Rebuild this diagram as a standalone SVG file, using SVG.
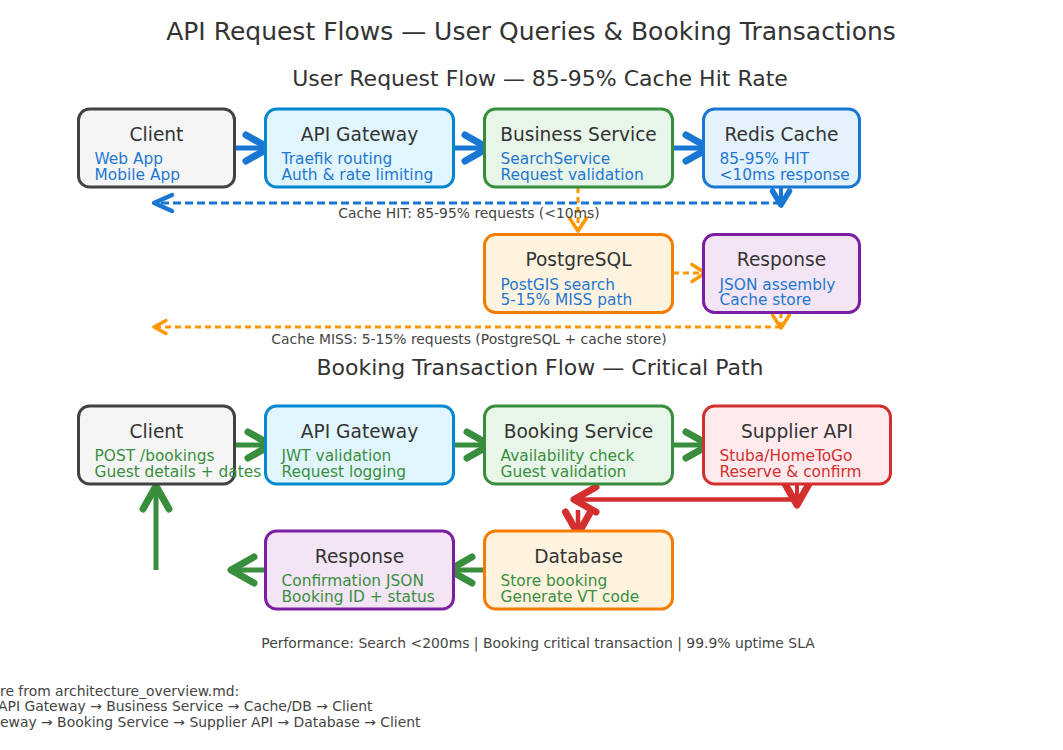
<svg xmlns="http://www.w3.org/2000/svg" width="1063" height="750" viewBox="0 0 1063 750">
<style>
text{font-family:"DejaVu Sans","Liberation Sans",sans-serif}
.h1{font-size:25px;fill:#333;text-anchor:middle}
.h2{font-size:22px;fill:#333;text-anchor:middle}
.nt{font-size:18.6px;fill:#333;text-anchor:middle}
.ns{font-size:15.4px}
.blue{fill:#1f77d0}
.green{fill:#3a8e3f}
.red{fill:#d32f2f}
.note{font-size:13.9px;fill:#444}
.box{stroke-width:3}
.c{fill:none;stroke-linecap:butt}
</style>
<defs>
<marker id="mBlue" markerUnits="userSpaceOnUse" orient="auto" refX="0" refY="0" markerWidth="10" markerHeight="10" overflow="visible"><path d="M-23,-13 L0,0 L-23,13" fill="none" stroke="#1976d2" stroke-width="7" stroke-linecap="round" stroke-linejoin="round"/></marker>
<marker id="mBlueS" markerUnits="userSpaceOnUse" orient="auto" refX="0" refY="0" markerWidth="10" markerHeight="10" overflow="visible"><path d="M-18,-8 L0,0 L-18,8" fill="none" stroke="#1976d2" stroke-width="4.5" stroke-linecap="round" stroke-linejoin="round"/></marker>
<marker id="mBlueD" markerUnits="userSpaceOnUse" orient="auto" refX="0" refY="0" markerWidth="10" markerHeight="10" overflow="visible"><path d="M-14,-8.5 L0,0 L-14,8.5" fill="none" stroke="#1976d2" stroke-width="5.5" stroke-linecap="round" stroke-linejoin="round"/></marker>
<marker id="mOr" markerUnits="userSpaceOnUse" orient="auto" refX="0" refY="0" markerWidth="10" markerHeight="10" overflow="visible"><path d="M-13,-8.5 L0,0 L-13,8.5" fill="none" stroke="#ff9800" stroke-width="3.5" stroke-linecap="round" stroke-linejoin="round"/></marker>
<marker id="mOrL" markerUnits="userSpaceOnUse" orient="auto" refX="0" refY="0" markerWidth="10" markerHeight="10" overflow="visible"><path d="M-12,-6.5 L0,0 L-12,6.5" fill="none" stroke="#ff9800" stroke-width="3.5" stroke-linecap="round" stroke-linejoin="round"/></marker>
<marker id="mGreen" markerUnits="userSpaceOnUse" orient="auto" refX="0" refY="0" markerWidth="10" markerHeight="10" overflow="visible"><path d="M-23,-13 L0,0 L-23,13" fill="none" stroke="#388e3c" stroke-width="7" stroke-linecap="round" stroke-linejoin="round"/></marker>
<marker id="mRed" markerUnits="userSpaceOnUse" orient="auto" refX="0" refY="0" markerWidth="10" markerHeight="10" overflow="visible"><path d="M-22,-12.5 L0,0 L-22,12.5" fill="none" stroke="#d32f2f" stroke-width="7" stroke-linecap="round" stroke-linejoin="round"/></marker>
</defs>
<rect width="1063" height="750" fill="#fff"/>

<text class="h1" x="531" y="40">API Request Flows — User Queries &amp; Booking Transactions</text>
<text class="h2" x="540" y="86">User Request Flow — 85-95% Cache Hit Rate</text>
<text class="h2" x="540" y="375">Booking Transaction Flow — Critical Path</text>

<g id="connectors">
<path class="c" d="M235,148 L269,148" stroke="#1976d2" stroke-width="5" marker-end="url(#mBlue)"/>
<path class="c" d="M454,148 L488,148" stroke="#1976d2" stroke-width="5" marker-end="url(#mBlue)"/>
<path class="c" d="M673,148 L709,148" stroke="#1976d2" stroke-width="5" marker-end="url(#mBlue)"/>
<path class="c" d="M781,187 L781,205" stroke="#1976d2" stroke-width="4" marker-end="url(#mBlueD)"/>
<path class="c" d="M781,203 L154,203" stroke="#1976d2" stroke-width="3" stroke-dasharray="8,4" marker-end="url(#mBlueS)"/>
<path class="c" d="M578,187 L578,231" stroke="#ff9800" stroke-width="3" stroke-dasharray="6,4" marker-end="url(#mOr)"/>
<path class="c" d="M673,273 L705,273" stroke="#ff9800" stroke-width="3" stroke-dasharray="6,4" marker-end="url(#mOr)"/>
<path class="c" d="M781,312 L781,328" stroke="#ff9800" stroke-width="3" stroke-dasharray="6,4" marker-end="url(#mOr)"/>
<path class="c" d="M781,327 L154,327" stroke="#ff9800" stroke-width="3" stroke-dasharray="6,4" marker-end="url(#mOrL)"/>
<path class="c" d="M235,445 L271,445" stroke="#388e3c" stroke-width="5" marker-end="url(#mGreen)"/>
<path class="c" d="M454,445 L490,445" stroke="#388e3c" stroke-width="5" marker-end="url(#mGreen)"/>
<path class="c" d="M673,445 L709,445" stroke="#388e3c" stroke-width="5" marker-end="url(#mGreen)"/>
<path class="c" d="M484,570 L449,570" stroke="#388e3c" stroke-width="5" marker-end="url(#mGreen)"/>
<path class="c" d="M265,570 L231,570" stroke="#388e3c" stroke-width="5" marker-end="url(#mGreen)"/>
<path class="c" d="M156,570 L156,486" stroke="#388e3c" stroke-width="5" marker-end="url(#mGreen)"/>
<path class="c" d="M797,484 L797,505" stroke="#d32f2f" stroke-width="4" marker-end="url(#mRed)"/>
<path class="c" d="M797,499.5 L574,499.5" stroke="#d32f2f" stroke-width="4.5" marker-end="url(#mRed)"/>
<path class="c" d="M578,510 L578,534" stroke="#d32f2f" stroke-width="4.5" marker-end="url(#mRed)"/>
</g>

<text class="note" x="469" y="218" text-anchor="middle">Cache HIT: 85-95% requests (&lt;10ms)</text>
<text class="note" x="469" y="344" text-anchor="middle">Cache MISS: 5-15% requests (PostgreSQL + cache store)</text>

<g id="u-client">
<rect class="box" x="78.5" y="109" width="156" height="78" rx="11" fill="#f5f5f5" stroke="#424242"/>
<text class="nt" x="156.5" y="140.5">Client</text>
<text class="ns blue" x="94.5" y="164">Web App</text>
<text class="ns blue" x="94.5" y="179.5">Mobile App</text>
</g>
<g id="u-gateway">
<rect class="box" x="265.5" y="109" width="188" height="78" rx="11" fill="#e1f5fe" stroke="#0288d1"/>
<text class="nt" x="359.5" y="140.5">API Gateway</text>
<text class="ns blue" x="281.5" y="164">Traefik routing</text>
<text class="ns blue" x="281.5" y="179.5">Auth &amp; rate limiting</text>
</g>
<g id="u-business">
<rect class="box" x="484.5" y="109" width="188" height="78" rx="11" fill="#e8f5e9" stroke="#388e3c"/>
<text class="nt" x="578.5" y="140.5">Business Service</text>
<text class="ns blue" x="500.5" y="164">SearchService</text>
<text class="ns blue" x="500.5" y="179.5">Request validation</text>
</g>
<g id="u-redis">
<rect class="box" x="703.5" y="109" width="156" height="78" rx="11" fill="#e3f2fd" stroke="#1976d2"/>
<text class="nt" x="781.5" y="140.5">Redis Cache</text>
<text class="ns blue" x="719.5" y="164">85-95% HIT</text>
<text class="ns blue" x="719.5" y="179.5">&lt;10ms response</text>
</g>
<g id="u-postgres">
<rect class="box" x="484.5" y="234.5" width="188" height="78" rx="11" fill="#fff3e0" stroke="#f57c00"/>
<text class="nt" x="578.5" y="266">PostgreSQL</text>
<text class="ns blue" x="500.5" y="289.5">PostGIS search</text>
<text class="ns blue" x="500.5" y="305">5-15% MISS path</text>
</g>
<g id="u-response">
<rect class="box" x="703.5" y="234.5" width="156" height="78" rx="11" fill="#f3e5f5" stroke="#7b1fa2"/>
<text class="nt" x="781.5" y="266">Response</text>
<text class="ns blue" x="719.5" y="289.5">JSON assembly</text>
<text class="ns blue" x="719.5" y="305">Cache store</text>
</g>

<g id="b-client">
<rect class="box" x="78.5" y="406" width="156" height="78" rx="11" fill="#f5f5f5" stroke="#424242"/>
<text class="nt" x="156.5" y="437.5">Client</text>
<text class="ns green" x="94.5" y="461">POST /bookings</text>
<text class="ns green" x="94.5" y="476.5">Guest details + dates</text>
</g>
<g id="b-gateway">
<rect class="box" x="265.5" y="406" width="188" height="78" rx="11" fill="#e1f5fe" stroke="#0288d1"/>
<text class="nt" x="359.5" y="437.5">API Gateway</text>
<text class="ns green" x="281.5" y="461">JWT validation</text>
<text class="ns green" x="281.5" y="476.5">Request logging</text>
</g>
<g id="b-booking">
<rect class="box" x="484.5" y="406" width="188" height="78" rx="11" fill="#e8f5e9" stroke="#388e3c"/>
<text class="nt" x="578.5" y="437.5">Booking Service</text>
<text class="ns green" x="500.5" y="461">Availability check</text>
<text class="ns green" x="500.5" y="476.5">Guest validation</text>
</g>
<g id="b-supplier">
<rect class="box" x="703.5" y="406" width="187" height="78" rx="11" fill="#ffebee" stroke="#d32f2f"/>
<text class="nt" x="797" y="437.5">Supplier API</text>
<text class="ns red" x="719.5" y="461">Stuba/HomeToGo</text>
<text class="ns red" x="719.5" y="476.5">Reserve &amp; confirm</text>
</g>
<g id="b-response">
<rect class="box" x="265.5" y="531" width="188" height="78" rx="11" fill="#f3e5f5" stroke="#7b1fa2"/>
<text class="nt" x="359.5" y="562.5">Response</text>
<text class="ns green" x="281.5" y="586">Confirmation JSON</text>
<text class="ns green" x="281.5" y="601.5">Booking ID + status</text>
</g>
<g id="b-database">
<rect class="box" x="484.5" y="531" width="188" height="78" rx="11" fill="#fff3e0" stroke="#f57c00"/>
<text class="nt" x="578.5" y="562.5">Database</text>
<text class="ns green" x="500.5" y="586">Store booking</text>
<text class="ns green" x="500.5" y="601.5">Generate VT code</text>
</g>

<text class="note" x="538" y="648" text-anchor="middle">Performance: Search &lt;200ms | Booking critical transaction | 99.9% uptime SLA</text>
<text class="note" x="0" y="695.5">re from architecture_overview.md:</text>
<text class="note" x="-2" y="711">API Gateway → Business Service → Cache/DB → Client</text>
<text class="note" x="0" y="726.5">eway → Booking Service → Supplier API → Database → Client</text>
</svg>
